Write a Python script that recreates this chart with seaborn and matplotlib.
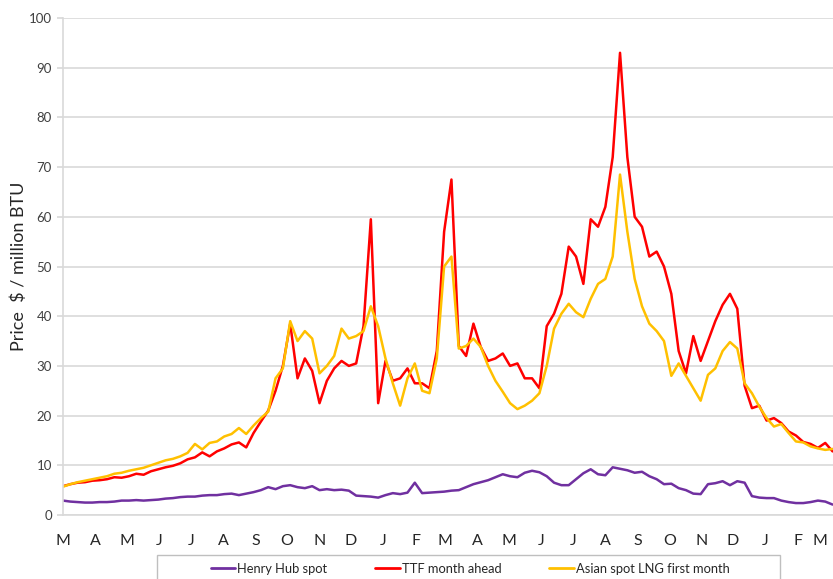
import numpy as np
import pandas as pd
import matplotlib
matplotlib.use("Agg")
import matplotlib.pyplot as plt
from matplotlib.patches import Rectangle
import seaborn as sns

# ============================================================
# DATA  (weekly readings, Mar 2021 - Mar 2023, $ / million BTU)
# ============================================================

START_DATE = "2021-03-01"
N_WEEKS = 106

henry_hub = [
    2.9, 2.7, 2.6, 2.5, 2.5, 2.6, 2.6, 2.7, 2.9, 2.9,
    3.0, 2.9, 3.0, 3.1, 3.3, 3.4, 3.6, 3.7, 3.7, 3.9,
    4.0, 4.0, 4.2, 4.3, 4.0, 4.3, 4.6, 5.0, 5.6, 5.2,
    5.8, 6.0, 5.6, 5.4, 5.8, 5.0, 5.2, 5.0, 5.1, 4.9,
    3.9, 3.8, 3.7, 3.5, 4.0, 4.4, 4.2, 4.5, 6.5, 4.4,
    4.5, 4.6, 4.7, 4.9, 5.0, 5.6, 6.2, 6.6, 7.0, 7.6,
    8.2, 7.8, 7.6, 8.5, 8.9, 8.6, 7.8, 6.5, 6.0, 6.0,
    7.2, 8.4, 9.2, 8.2, 8.0, 9.6, 9.3, 9.0, 8.5, 8.7,
    7.8, 7.2, 6.2, 6.3, 5.4, 5.0, 4.3, 4.2, 6.2, 6.4,
    6.8, 6.0, 6.8, 6.5, 3.8, 3.5, 3.4, 3.4, 2.9, 2.6,
    2.4, 2.4, 2.6, 2.9, 2.7, 2.1,
]

ttf = [
    5.8, 6.2, 6.5, 6.6, 6.9, 7.0, 7.2, 7.6, 7.5, 7.8,
    8.3, 8.1, 8.8, 9.2, 9.6, 9.9, 10.4, 11.2, 11.6, 12.6,
    11.8, 12.8, 13.4, 14.2, 14.6, 13.6, 16.5, 18.8, 21.0, 25.0,
    30.0, 38.5, 27.5, 31.5, 29.0, 22.5, 27.0, 29.5, 31.0, 30.0,
    30.5, 38.0, 59.5, 22.5, 31.0, 27.0, 27.5, 29.5, 26.5, 26.5,
    25.5, 33.0, 57.0, 67.5, 34.0, 32.0, 38.5, 33.8, 31.0, 31.5,
    32.5, 30.0, 30.5, 27.5, 27.5, 25.5, 38.0, 40.5, 44.5, 54.0,
    52.0, 46.5, 59.5, 58.0, 62.0, 72.0, 93.0, 72.0, 60.0, 58.0,
    52.0, 53.0, 50.0, 44.5, 33.0, 28.5, 36.0, 31.0, 35.0, 39.0,
    42.3, 44.5, 41.5, 26.0, 21.5, 22.0, 19.0, 19.5, 18.5, 16.8,
    16.0, 14.7, 14.3, 13.5, 14.5, 12.8,
]

asian_lng = [
    5.7, 6.2, 6.6, 6.9, 7.2, 7.5, 7.8, 8.3, 8.5, 8.9,
    9.2, 9.5, 10.0, 10.5, 11.0, 11.3, 11.8, 12.5, 14.3, 13.2,
    14.5, 14.8, 15.8, 16.3, 17.5, 16.3, 18.0, 19.5, 20.8, 27.5,
    29.5, 39.0, 35.0, 37.0, 35.5, 28.5, 30.0, 32.0, 37.5, 35.5,
    36.0, 37.0, 42.0, 38.0, 31.5, 26.5, 22.0, 27.5, 30.5, 25.0,
    24.5, 31.5, 50.0, 52.0, 33.5, 34.0, 35.5, 33.8, 30.0, 27.0,
    24.8, 22.5, 21.3, 22.0, 23.0, 24.5, 30.0, 37.5, 40.5, 42.5,
    40.8, 39.8, 43.5, 46.5, 47.5, 52.0, 68.5, 57.0, 47.5, 42.0,
    38.5, 37.0, 35.0, 28.0, 30.5, 28.0, 25.5, 23.0, 28.2, 29.5,
    33.0, 34.8, 33.5, 26.5, 24.5, 21.8, 19.5, 17.8, 18.3, 16.5,
    14.8, 14.6, 13.8, 13.4, 13.1, 13.3,
]

SERIES_NAMES = ["Henry Hub spot", "TTF month ahead", "Asian spot LNG first month"]
SERIES_COLORS = ["#7030A0", "#FF0000", "#FFC000"]

MONTH_LABELS = [
    "M", "A", "M", "J", "J", "A", "S", "O", "N", "D", "J", "F",
    "M", "A", "M", "J", "J", "A", "S", "O", "N", "D", "J", "F", "M",
]

Y_LABEL = "Price  $ / million BTU"

# ============================================================
# FRAME
# ============================================================

dates = pd.date_range(START_DATE, periods=N_WEEKS, freq="7D")

df = pd.DataFrame({
    "date": np.tile(dates, 3),
    "price": henry_hub + ttf + asian_lng,
    "series": np.repeat(SERIES_NAMES, N_WEEKS),
})

# ============================================================
# PLOT
# ============================================================

sns.set_theme(style="white")
plt.rcParams["font.family"] = ["Lato", "DejaVu Sans"]

W, H = 833, 579
fig = plt.figure(figsize=(W / 100, H / 100), dpi=100)
ax = fig.add_axes([63 / W, 1 - 515 / H, 1 - 63 / W + 0.002, (515 - 18) / H])

sns.lineplot(
    data=df,
    x="date",
    y="price",
    hue="series",
    hue_order=SERIES_NAMES,
    palette=SERIES_COLORS,
    linewidth=1.8,
    legend=False,
    ax=ax,
)

grid_c = "#D9D9D9"

ax.set_ylim(0, 100)
ax.set_yticks(np.arange(0, 101, 10))
ax.yaxis.grid(True, color=grid_c, linewidth=1.2)
ax.set_axisbelow(True)

ax.set_xlim(pd.Timestamp(START_DATE), pd.Timestamp("2023-03-08"))
month_ticks = pd.date_range(START_DATE, periods=len(MONTH_LABELS), freq="MS")
ax.set_xticks(month_ticks)
ax.set_xticklabels(MONTH_LABELS)

for s in ["top", "right"]:
    ax.spines[s].set_visible(False)
for s in ["left", "bottom"]:
    ax.spines[s].set_color(grid_c)
    ax.spines[s].set_linewidth(1.2)

ax.tick_params(axis="y", left=True, length=4, color=grid_c,
               labelsize=9.5, labelcolor="#404040", pad=4)
ax.tick_params(axis="x", bottom=False, labelsize=11.5,
               labelcolor="#262626", pad=8)

# keep the last month letter inside the canvas
ax.get_xticklabels()[-1].set_horizontalalignment("right")

ax.set_xlabel("")
ax.set_ylabel(Y_LABEL, fontsize=13, color="#262626", labelpad=1)

# legend box (Excel style, cut off at bottom)
fig.patches.append(Rectangle(
    (157 / W, -0.02), (780 - 157) / W, (579 - 555) / H + 0.02,
    transform=fig.transFigure, facecolor="white",
    edgecolor="#BFBFBF", linewidth=1.0,
))

handles = [
    plt.Line2D([], [], color=c, linewidth=2.0) for c in SERIES_COLORS
]
fig.legend(
    handles,
    SERIES_NAMES,
    loc="center",
    bbox_to_anchor=(470 / W, 1 - 569 / H),
    ncol=3,
    frameon=False,
    fontsize=9.3,
    handlelength=1.9,
    handletextpad=0.15,
    columnspacing=3.7,
    labelcolor="#262626",
)

plt.savefig("out.png", dpi=100)
plt.close()
